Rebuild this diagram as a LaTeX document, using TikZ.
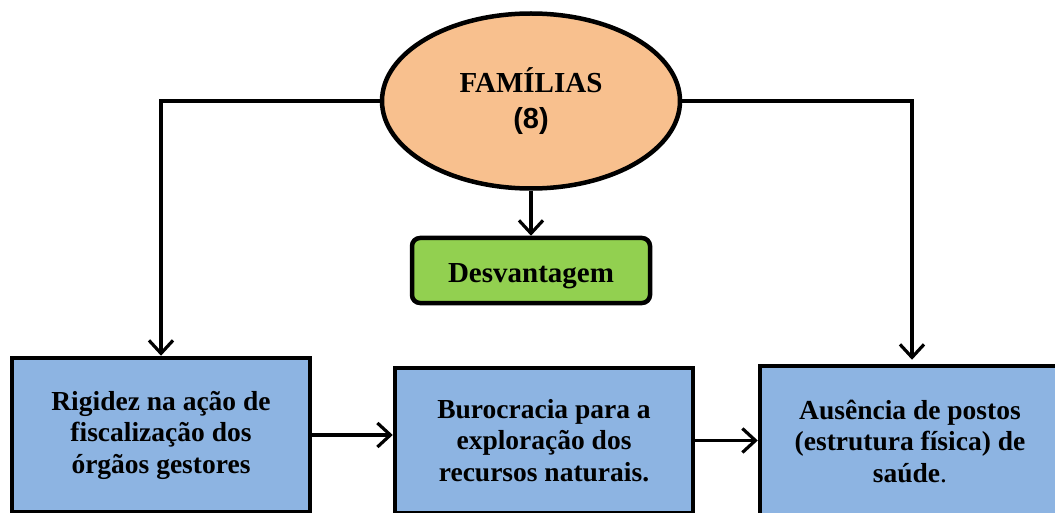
\documentclass[tikz,border=0pt]{standalone}
\usepackage{fontspec}
\setmainfont{Liberation Serif}
\newfontfamily\arialfont{Liberation Sans}
\usepackage{xcolor}
\definecolor{peach}{RGB}{248, 192, 142}
\definecolor{leafgreen}{RGB}{146, 208, 80}
\definecolor{skyblue}{RGB}{141, 180, 226}
\usepackage{tikz}
\usetikzlibrary{
    shapes.geometric,
    arrows.meta,
    positioning,
    calc
}
\tikzstyle{arrow} = [
    -{Straight Barb[length=13pt,width=24pt]},
    line width=3.2pt
]
\tikzstyle{bluebox} = [
    rectangle,
    draw=black,
    line width=4.5pt,
    fill=skyblue,
    inner sep=0pt,
    align=center,
    font=\fontsize{27.5}{31.5}\selectfont\bfseries
]

\begin{document}
\begin{tikzpicture}[x=1pt, y=-1pt]
    % Frame
    \useasboundingbox (0,0) rectangle (1055,513);
    \clip (0,0) rectangle (1055,513);

    % Families
    \node[ellipse, draw, line width=4.5pt, fill=peach, minimum width=298pt, minimum height=175pt,
          inner sep=0pt, align=center, font=\fontsize{29}{36}\selectfont\bfseries]
        (familias) at (531,101) {FAMÍLIAS\\{\arialfont (8)}};

    % Disadvantage
    \node[rectangle, rounded corners=8pt, draw, line width=4.5pt, fill=leafgreen,
          minimum width=238pt, minimum height=65pt, inner sep=0pt,
          font=\fontsize{29}{30}\selectfont\bfseries]
        (desvantagem) at (531,270.5) {\raisebox{-12pt}[0pt][0pt]{Desvantagem}};

    % Bottom boxes
    \node[bluebox, minimum width=298pt, minimum height=154pt] (rigidez) at (161,435)
        {Rigidez na ação de\\fiscalização dos\\órgãos gestores};
    \node[bluebox, minimum width=298pt, minimum height=145pt] (burocracia) at (544,440.5)
        {Burocracia para a\\exploração dos\\recursos naturais.};
    \node[bluebox, minimum width=300pt, minimum height=150pt] (ausencia) at (910,441)
        {Ausência de postos\\(estrutura física) de\\saúde{\mdseries.}};

    % Connectors
    \draw[arrow] (familias.south) -- (desvantagem.north);
    \draw[arrow] (familias.west) -| (rigidez.north);
    \draw[arrow] (familias.east) -| ($(ausencia.north)+(2,-4)$);
    \draw[arrow] (rigidez.east) -- (rigidez.east -| burocracia.west);
    \draw[arrow] (burocracia.east) -- (burocracia.east -| ausencia.west);
\end{tikzpicture}
\end{document}
